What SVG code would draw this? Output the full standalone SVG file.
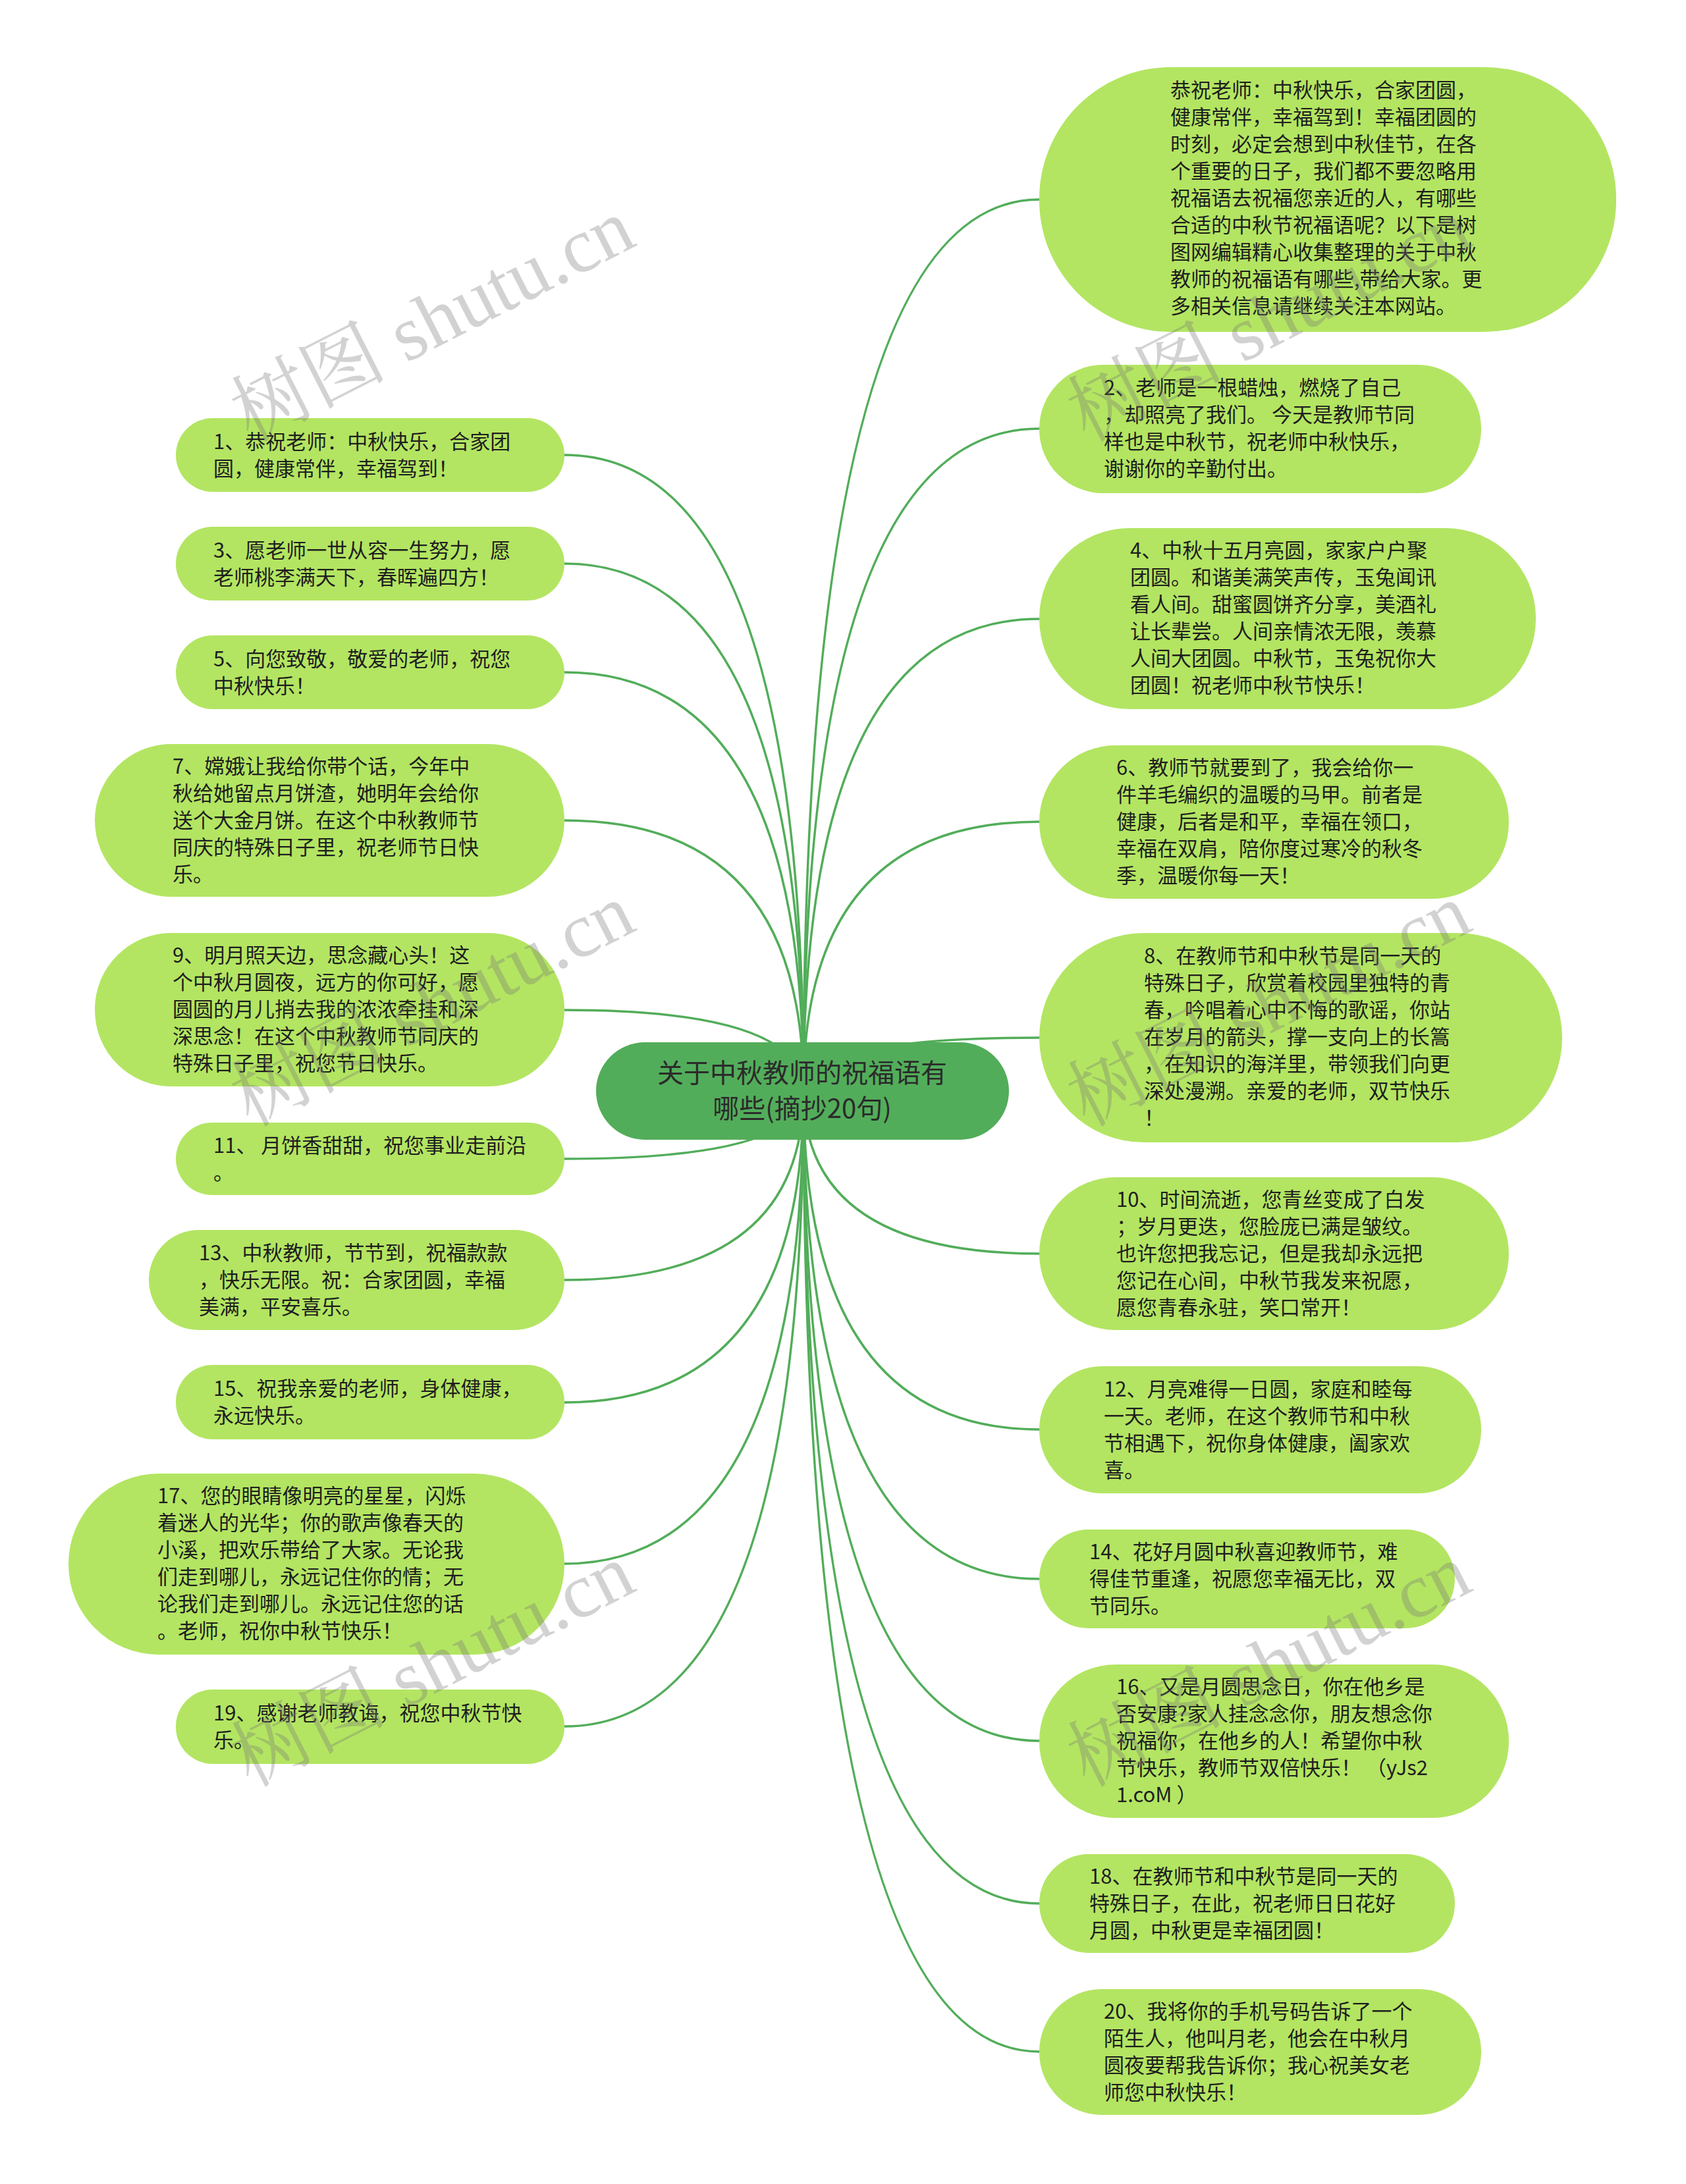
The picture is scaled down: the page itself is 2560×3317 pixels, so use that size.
<svg xmlns="http://www.w3.org/2000/svg" width="2560" height="3317" viewBox="0 0 2560 3317">
<style>
.leaf{fill:#b3e562;}
.center{fill:#52ad5a;}
.t{font-family:"Noto Sans CJK SC","Noto Sans",sans-serif;font-size:31px;fill:#1e1e1e;white-space:pre;}
.ct{font-family:"Noto Sans CJK SC","Noto Sans",sans-serif;font-size:40px;fill:#2b2b2b;text-anchor:middle;}
.edge{fill:none;stroke:#52ad5a;stroke-width:3.5;stroke-linecap:round;}
.wm{font-family:"Liberation Serif","Noto Serif CJK SC","Noto Sans CJK SC",serif;font-size:118px;fill:#777;fill-opacity:0.33;}
</style>
<rect width="2560" height="3317" fill="#ffffff"/>
<g id="connectors">
<path class="edge" d="M1220,1657 Q1220,691 857,691"/>
<path class="edge" d="M1220,1657 Q1220,856 857,856"/>
<path class="edge" d="M1220,1657 Q1220,1021 857,1021"/>
<path class="edge" d="M1220,1657 Q1220,1246 857,1246"/>
<path class="edge" d="M1220,1657 Q1220,1534 857,1534"/>
<path class="edge" d="M1220,1657 Q1220,1760 857,1760"/>
<path class="edge" d="M1220,1657 Q1220,1944 857,1944"/>
<path class="edge" d="M1220,1657 Q1220,2130 857,2130"/>
<path class="edge" d="M1220,1657 Q1220,2375 857,2375"/>
<path class="edge" d="M1220,1657 Q1220,2622 857,2622"/>
<path class="edge" d="M1220,1657 Q1220,303 1578,303"/>
<path class="edge" d="M1220,1657 Q1220,651 1578,651"/>
<path class="edge" d="M1220,1657 Q1220,940 1578,940"/>
<path class="edge" d="M1220,1657 Q1220,1248 1578,1248"/>
<path class="edge" d="M1220,1657 Q1220,1576 1578,1576"/>
<path class="edge" d="M1220,1657 Q1220,1904 1578,1904"/>
<path class="edge" d="M1220,1657 Q1220,2171 1578,2171"/>
<path class="edge" d="M1220,1657 Q1220,2398 1578,2398"/>
<path class="edge" d="M1220,1657 Q1220,2644 1578,2644"/>
<path class="edge" d="M1220,1657 Q1220,2891 1578,2891"/>
<path class="edge" d="M1220,1657 Q1220,3116 1578,3116"/>
</g>
<g id="center">
<rect class="center" x="905" y="1583" width="627" height="148" rx="74"/>
<text class="ct" x="1218" y="1644">关于中秋教师的祝福语有</text>
<text class="ct" x="1218" y="1698">哪些(摘抄20句)</text>
</g>
<g id="n1">
<rect class="leaf" x="267" y="635" width="590" height="112" rx="56"/>
<text class="t" x="324" y="682">1、恭祝老师：中秋快乐，合家团</text>
<text class="t" x="324" y="723">圆，健康常伴，幸福驾到！</text>
</g>
<g id="n3">
<rect class="leaf" x="267" y="800" width="590" height="112" rx="56"/>
<text class="t" x="324" y="847">3、愿老师一世从容一生努力，愿</text>
<text class="t" x="324" y="888">老师桃李满天下，春晖遍四方！</text>
</g>
<g id="n5">
<rect class="leaf" x="267" y="965" width="590" height="112" rx="56"/>
<text class="t" x="324" y="1012">5、向您致敬，敬爱的老师，祝您</text>
<text class="t" x="324" y="1053">中秋快乐！</text>
</g>
<g id="n7">
<rect class="leaf" x="144" y="1130" width="713" height="232" rx="116"/>
<text class="t" x="262" y="1175">7、嫦娥让我给你带个话，今年中</text>
<text class="t" x="262" y="1216">秋给她留点月饼渣，她明年会给你</text>
<text class="t" x="262" y="1257">送个大金月饼。在这个中秋教师节</text>
<text class="t" x="262" y="1298">同庆的特殊日子里，祝老师节日快</text>
<text class="t" x="262" y="1339">乐。</text>
</g>
<g id="n9">
<rect class="leaf" x="144" y="1417" width="713" height="233" rx="116"/>
<text class="t" x="262" y="1462">9、明月照天边，思念藏心头！这</text>
<text class="t" x="262" y="1503">个中秋月圆夜，远方的你可好，愿</text>
<text class="t" x="262" y="1544">圆圆的月儿捎去我的浓浓牵挂和深</text>
<text class="t" x="262" y="1585">深思念！在这个中秋教师节同庆的</text>
<text class="t" x="262" y="1626">特殊日子里，祝您节日快乐。</text>
</g>
<g id="n11">
<rect class="leaf" x="267" y="1705" width="590" height="110" rx="55"/>
<text class="t" x="324" y="1751">11、 月饼香甜甜，祝您事业走前沿</text>
<text class="t" x="324" y="1792">。</text>
</g>
<g id="n13">
<rect class="leaf" x="226" y="1868" width="631" height="152" rx="76"/>
<text class="t" x="302" y="1914">13、中秋教师，节节到，祝福款款</text>
<text class="t" x="302" y="1955">，快乐无限。祝：合家团圆，幸福</text>
<text class="t" x="302" y="1996">美满，平安喜乐。</text>
</g>
<g id="n15">
<rect class="leaf" x="267" y="2073" width="590" height="113" rx="56"/>
<text class="t" x="324" y="2120">15、祝我亲爱的老师，身体健康，</text>
<text class="t" x="324" y="2161">永远快乐。</text>
</g>
<g id="n17">
<rect class="leaf" x="104" y="2238" width="753" height="275" rx="137"/>
<text class="t" x="239" y="2283">17、您的眼睛像明亮的星星，闪烁</text>
<text class="t" x="239" y="2324">着迷人的光华；你的歌声像春天的</text>
<text class="t" x="239" y="2365">小溪，把欢乐带给了大家。无论我</text>
<text class="t" x="239" y="2406">们走到哪儿，永远记住你的情；无</text>
<text class="t" x="239" y="2447">论我们走到哪儿。永远记住您的话</text>
<text class="t" x="239" y="2488">。老师，祝你中秋节快乐！</text>
</g>
<g id="n19">
<rect class="leaf" x="267" y="2566" width="590" height="113" rx="56"/>
<text class="t" x="324" y="2613">19、感谢老师教诲，祝您中秋节快</text>
<text class="t" x="324" y="2654">乐。</text>
</g>
<g id="r1">
<rect class="leaf" x="1578" y="102" width="876" height="402" rx="200"/>
<text class="t" x="1777" y="148">恭祝老师：中秋快乐，合家团圆，</text>
<text class="t" x="1777" y="189">健康常伴，幸福驾到！幸福团圆的</text>
<text class="t" x="1777" y="230">时刻，必定会想到中秋佳节，在各</text>
<text class="t" x="1777" y="271">个重要的日子，我们都不要忽略用</text>
<text class="t" x="1777" y="312">祝福语去祝福您亲近的人，有哪些</text>
<text class="t" x="1777" y="353">合适的中秋节祝福语呢？以下是树</text>
<text class="t" x="1777" y="394">图网编辑精心收集整理的关于中秋</text>
<text class="t" x="1777" y="435">教师的祝福语有哪些,带给大家。更</text>
<text class="t" x="1777" y="476">多相关信息请继续关注本网站。</text>
</g>
<g id="r2">
<rect class="leaf" x="1578" y="554" width="671" height="195" rx="97"/>
<text class="t" x="1676" y="600">2、老师是一根蜡烛，燃烧了自己</text>
<text class="t" x="1676" y="641">，却照亮了我们。 今天是教师节同</text>
<text class="t" x="1676" y="682">样也是中秋节，祝老师中秋快乐，</text>
<text class="t" x="1676" y="723">谢谢你的辛勤付出。</text>
</g>
<g id="r3">
<rect class="leaf" x="1578" y="802" width="754" height="275" rx="137"/>
<text class="t" x="1716" y="847">4、中秋十五月亮圆，家家户户聚</text>
<text class="t" x="1716" y="888">团圆。和谐美满笑声传，玉兔闻讯</text>
<text class="t" x="1716" y="929">看人间。甜蜜圆饼齐分享，美酒礼</text>
<text class="t" x="1716" y="970">让长辈尝。人间亲情浓无限，羡慕</text>
<text class="t" x="1716" y="1011">人间大团圆。中秋节，玉兔祝你大</text>
<text class="t" x="1716" y="1052">团圆！祝老师中秋节快乐！</text>
</g>
<g id="r4">
<rect class="leaf" x="1578" y="1132" width="713" height="233" rx="116"/>
<text class="t" x="1695" y="1177">6、教师节就要到了，我会给你一</text>
<text class="t" x="1695" y="1218">件羊毛编织的温暖的马甲。前者是</text>
<text class="t" x="1695" y="1259">健康，后者是和平，幸福在领口，</text>
<text class="t" x="1695" y="1300">幸福在双肩，陪你度过寒冷的秋冬</text>
<text class="t" x="1695" y="1341">季，温暖你每一天！</text>
</g>
<g id="r5">
<rect class="leaf" x="1578" y="1417" width="794" height="318" rx="159"/>
<text class="t" x="1737" y="1463">8、在教师节和中秋节是同一天的</text>
<text class="t" x="1737" y="1504">特殊日子，欣赏着校园里独特的青</text>
<text class="t" x="1737" y="1545">春，吟唱着心中不悔的歌谣，你站</text>
<text class="t" x="1737" y="1586">在岁月的箭头，撑一支向上的长篙</text>
<text class="t" x="1737" y="1627">，在知识的海洋里，带领我们向更</text>
<text class="t" x="1737" y="1668">深处漫溯。亲爱的老师，双节快乐</text>
<text class="t" x="1737" y="1709">！</text>
</g>
<g id="r6">
<rect class="leaf" x="1578" y="1788" width="713" height="232" rx="116"/>
<text class="t" x="1695" y="1833">10、时间流逝，您青丝变成了白发</text>
<text class="t" x="1695" y="1874">；岁月更迭，您脸庞已满是皱纹。</text>
<text class="t" x="1695" y="1915">也许您把我忘记，但是我却永远把</text>
<text class="t" x="1695" y="1956">您记在心间，中秋节我发来祝愿，</text>
<text class="t" x="1695" y="1997">愿您青春永驻，笑口常开！</text>
</g>
<g id="r7">
<rect class="leaf" x="1578" y="2075" width="671" height="193" rx="96"/>
<text class="t" x="1676" y="2121">12、月亮难得一日圆，家庭和睦每</text>
<text class="t" x="1676" y="2162">一天。老师，在这个教师节和中秋</text>
<text class="t" x="1676" y="2203">节相遇下，祝你身体健康，阖家欢</text>
<text class="t" x="1676" y="2244">喜。</text>
</g>
<g id="r8">
<rect class="leaf" x="1578" y="2323" width="631" height="150" rx="75"/>
<text class="t" x="1654" y="2368">14、花好月圆中秋喜迎教师节，难</text>
<text class="t" x="1654" y="2409">得佳节重逢，祝愿您幸福无比，双</text>
<text class="t" x="1654" y="2450">节同乐。</text>
</g>
<g id="r9">
<rect class="leaf" x="1578" y="2528" width="713" height="233" rx="116"/>
<text class="t" x="1695" y="2573">16、又是月圆思念日，你在他乡是</text>
<text class="t" x="1695" y="2614">否安康?家人挂念念你，朋友想念你</text>
<text class="t" x="1695" y="2655">祝福你，在他乡的人！希望你中秋</text>
<text class="t" x="1695" y="2696">节快乐，教师节双倍快乐！ （yJs2</text>
<text class="t" x="1695" y="2737">1.coM ）</text>
</g>
<g id="r10">
<rect class="leaf" x="1578" y="2816" width="631" height="150" rx="75"/>
<text class="t" x="1654" y="2861">18、在教师节和中秋节是同一天的</text>
<text class="t" x="1654" y="2902">特殊日子，在此，祝老师日日花好</text>
<text class="t" x="1654" y="2943">月圆，中秋更是幸福团圆！</text>
</g>
<g id="r11">
<rect class="leaf" x="1578" y="3021" width="671" height="191" rx="95"/>
<text class="t" x="1676" y="3066">20、我将你的手机号码告诉了一个</text>
<text class="t" x="1676" y="3107">陌生人，他叫月老，他会在中秋月</text>
<text class="t" x="1676" y="3148">圆夜要帮我告诉你；我心祝美女老</text>
<text class="t" x="1676" y="3189">师您中秋快乐！</text>
</g>
<g id="watermarks">
<text class="wm" transform="translate(380,672) rotate(-27)">树图 shutu.cn</text>
<text class="wm" transform="translate(1650,672) rotate(-27)">树图 shutu.cn</text>
<text class="wm" transform="translate(380,1712) rotate(-27)">树图 shutu.cn</text>
<text class="wm" transform="translate(1650,1712) rotate(-27)">树图 shutu.cn</text>
<text class="wm" transform="translate(380,2715) rotate(-27)">树图 shutu.cn</text>
<text class="wm" transform="translate(1650,2715) rotate(-27)">树图 shutu.cn</text>
</g>
</svg>
